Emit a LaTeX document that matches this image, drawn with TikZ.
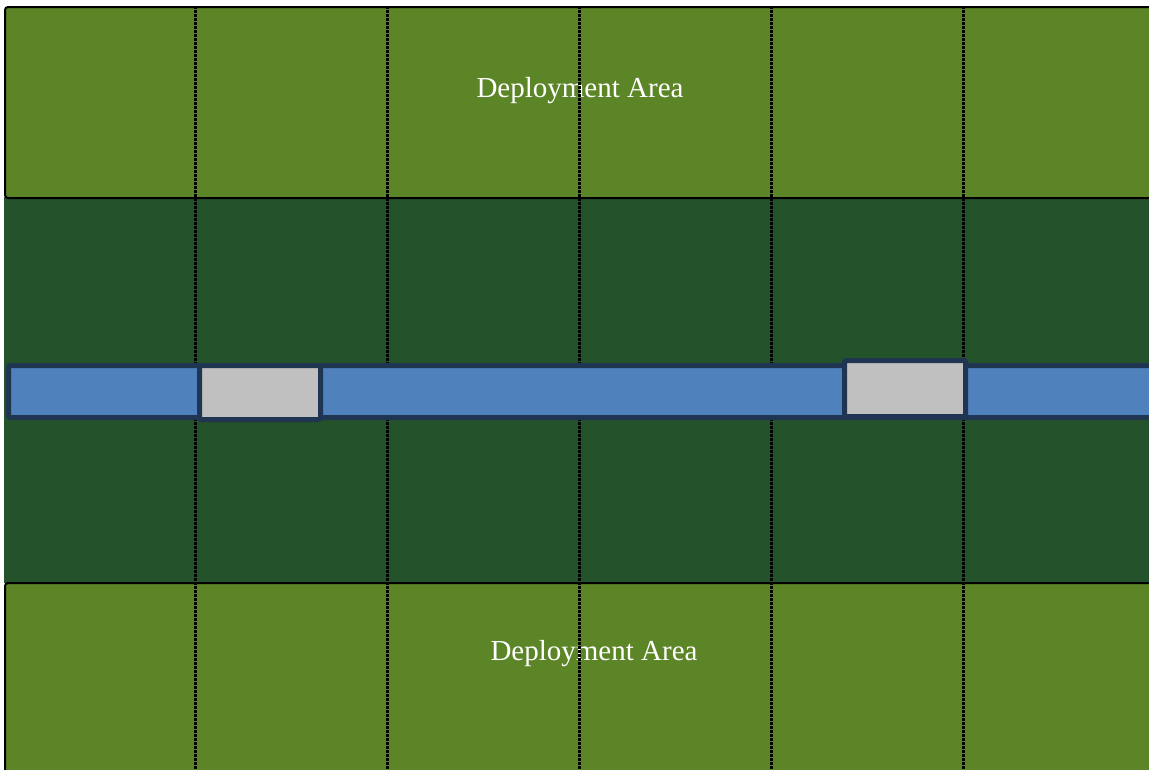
\documentclass[tikz,border=0pt]{standalone}
\usepackage{fontspec}
\setmainfont{Liberation Serif}
\definecolor{lightgrass}{HTML}{5B8526}
\definecolor{darkgrass}{HTML}{23522B}
\definecolor{riverblue}{HTML}{4F81BD}
\definecolor{navyline}{HTML}{1F3552}
\definecolor{bridgegray}{HTML}{C0C0C0}
\begin{document}
\begin{tikzpicture}[x=1pt,y=-1pt,
  area/.style={fill=lightgrass,draw=black,line width=2pt,rounded corners=3pt},
  gridline/.style={draw=black,line width=2.2pt,dash pattern=on 2.5pt off 1.5pt},
  riverbox/.style={fill=riverblue,draw=navyline,line width=5pt,rounded corners=2pt},
  bridgebox/.style={fill=bridgegray,draw=navyline,line width=5pt,rounded corners=2pt},
  label/.style={text=white,font=\fontsize{29}{32}\selectfont,inner sep=0pt}]
\useasboundingbox (0,0) rectangle (1149,769);
\fill[white] (0,0) rectangle (1149,769);
% middle zone
\fill[darkgrass] (4,197) rectangle (1149,583);
% deployment areas
\draw[area] (5,7) rectangle (1155,198);
\draw[area] (5,583) rectangle (1155,775);
\node[label] (topLabel) at (580,91) {Deployment Area};
\node[label] (botLabel) at (594,654) {Deployment Area};
% grid lines
\foreach \i in {0,...,4} {
  \draw[gridline] ({195.5+192*\i},6) -- ({195.5+192*\i},769);
}
% river
\draw[riverbox] (8.5,365.5) rectangle (1156,417.5);
% bridges
\draw[bridgebox] (199.5,365.5) rectangle (320.5,419.5);
\draw[bridgebox] (844.5,360.5) rectangle (965.5,416.5);
\end{tikzpicture}
\end{document}
